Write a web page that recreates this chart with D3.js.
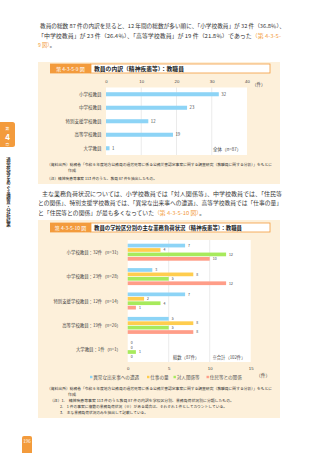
<!DOCTYPE html>
<html>
<head>
<meta charset="utf-8">
<script src="https://cdn.jsdelivr.net/npm/d3@7"></script>
<style>
  body { margin: 0; background: #fff; }
  svg { display: block; font-family: "Noto Sans CJK JP", "Noto Sans", sans-serif; }
</style>
</head>
<body>
<svg width="320" height="453"></svg>
<script>
// Chart 1 data
var schools1 = ["小学校教員", "中学校教員", "特別支援学校教員", "高等学校教員", "大学教員"];
var counts1 = [32, 23, 12, 19, 1];
var ticks1 = [0, 10, 20, 30, 40];

// Chart 2 data
var schools2 = ["小学校教員：32件（n=31）", "中学校教員：23件（n=28）", "特別支援学校教員：12件（n=14）", "高等学校教員：19件（n=26）", "大学教員：1件（n=1）"];
var series2 = ["異常な出来事への遭遇", "仕事の量", "対人関係等", "住民等との関係"];
var shock = [7, 3, 7, 5, 0];
var workload = [4, 8, 2, 8, 0];
var relations = [12, 5, 4, 5, 1];
var residents = [10, 12, 1, 8, 0];
var ticks2 = [0, 5, 10, 15];

var colors = ["#8dd4f6", "#ffcd4e", "#a7ea5c", "#ff9d88"];
var orange = "#f39b3c", cream = "#fdf0da", txt = "#333";

var svg = d3.select("svg");

// paragraph helper
function line(x, y, w, parts, size) {
  var t = svg.append("text").attr("x", x).attr("y", y)
    .attr("font-size", size || 5.3).attr("fill", txt)
    .attr("textLength", w).attr("lengthAdjust", "spacingAndGlyphs");
  parts.forEach(function(p) {
    t.append("tspan").attr("fill", p[1] || txt).text(p[0]);
  });
}

line(40, 28, 245, [["教員の総数 87 件の内訳を見ると、12 年間の総数が多い順に、「小学校教員」が 32 件（36.8％）、"]]);
line(38, 38, 243, [["「中学校教員」が 23 件（26.4％）、「高等学校教員」が 19 件（21.8％）であった"], ["（第 4-3-5-", orange]]);
line(38, 47, 17, [["9 図）", orange], ["。"]]);

line(42, 196, 240, [["主な業務負荷状況については、小学校教員では「対人関係等」、中学校教員では、「住民等"]]);
line(38, 205, 244, [["との関係」、特別支援学校教員では、「異常な出来事への遭遇」、高等学校教員では「仕事の量」"]]);
line(38, 215, 167, [["と「住民等との関係」が最も多くなっていた"], ["（第 4-3-5-10 図）", orange], ["。"]]);

// title bar helper
function titleBar(y, code, title, w) {
  svg.append("rect").attr("x", 91).attr("y", y).attr("width", 179).attr("height", 9)
    .attr("fill", "#fff").attr("stroke", orange).attr("stroke-width", 0.8);
  svg.append("rect").attr("x", 50).attr("y", y - 0.4).attr("width", 41).attr("height", 9.8).attr("fill", orange);
  svg.append("text").attr("x", 70.5).attr("y", y + 6.5).attr("text-anchor", "middle")
    .attr("font-size", 5).attr("fill", "#fff").text(code);
  svg.append("text").attr("x", 94).attr("y", y + 6.6).attr("font-size", 5.5).attr("font-weight", "bold")
    .attr("fill", "#222").attr("textLength", w).attr("lengthAdjust", "spacingAndGlyphs").text(title);
}

// ---------- chart 1 ----------
svg.append("rect").attr("x", 38).attr("y", 62).attr("width", 242).attr("height", 122).attr("fill", cream);
titleBar(64, "第 4-3-5-9 図", "教員の内訳（精神疾患等）：教職員", 90);

var x1 = d3.scaleLinear().domain([0, 40]).range([106, 247]);
var y1 = d3.scaleBand().domain(schools1).range([87.5, 155]).paddingInner(0.7).paddingOuter(0.35);

svg.append("rect").attr("x", x1(0)).attr("y", 87.5).attr("width", x1(40) - x1(0)).attr("height", 67.5).attr("fill", "#fff");
svg.append("g").selectAll("line").data(ticks1.slice(1, 4)).join("line")
  .attr("x1", d => x1(d)).attr("x2", d => x1(d)).attr("y1", 87.5).attr("y2", 155)
  .attr("stroke", "#ddd").attr("stroke-width", 0.6);

var ax1 = svg.append("g").attr("transform", "translate(0,84)")
  .call(d3.axisTop(x1).tickValues(ticks1).tickSize(0).tickPadding(1));
ax1.select(".domain").remove();
ax1.selectAll("text").attr("font-size", 4.3).attr("fill", "#444").attr("font-family", "inherit");
svg.append("text").attr("x", 252).attr("y", 86).attr("font-size", 4.5).attr("fill", "#444").text("（件）");

svg.append("g").selectAll("rect").data(counts1).join("rect")
  .attr("x", x1(0)).attr("y", (d, i) => y1(schools1[i]))
  .attr("width", d => x1(d) - x1(0)).attr("height", y1.bandwidth()).attr("fill", colors[0]);
svg.append("g").selectAll("text").data(counts1).join("text")
  .attr("x", d => x1(d) + 2.5).attr("y", (d, i) => y1(schools1[i]) + y1.bandwidth() / 2 + 1.5)
  .attr("font-size", 4.3).attr("fill", "#444").text(d => d);
svg.append("g").selectAll("text").data(schools1).join("text")
  .attr("x", 101.5).attr("y", d => y1(d) + y1.bandwidth() / 2 + 1.6).attr("text-anchor", "end")
  .attr("font-size", 4.5).attr("fill", "#444").text(d => d);
svg.append("text").attr("x", 213).attr("y", 150.5).attr("font-size", 4.5).attr("fill", "#444").text("全体（n=87）");

line(47, 166, 225, [["（資料出所）総務省「令和 6 年度地方公務員の過労死等に係る公務災害認定事案に関する調査研究（教職員に関する分析）」をもとに"]], 3.8);
line(68, 171.5, 8, [["作成"]], 3.8);
line(47, 180, 110, [["（注）精神疾患等事案 113 件のうち、教員 87 件を抽出したもの。"]], 3.8);

// ---------- chart 2 ----------
svg.append("rect").attr("x", 38).attr("y", 220).attr("width", 242).attr("height", 198).attr("fill", cream);
titleBar(223, "第 4-3-5-10 図", "教員の学校区分別の主な業務負荷状況（精神疾患等）：教職員", 148);

var x2 = d3.scaleLinear().domain([0, 15]).range([127.7, 250.7]);
var y2 = d3.scaleBand().domain(schools2).range([240, 362]);
var inner = d3.scaleBand().domain(series2).range([-8.5, 8.5]).paddingInner(0.16);
var values2 = [shock, workload, relations, residents];

svg.append("rect").attr("x", x2(0)).attr("y", 240).attr("width", x2(15) - x2(0)).attr("height", 122).attr("fill", "#fff");
svg.append("g").selectAll("line").data([5, 10]).join("line")
  .attr("x1", d => x2(d)).attr("x2", d => x2(d)).attr("y1", 240).attr("y2", 362)
  .attr("stroke", "#ddd").attr("stroke-width", 0.6);

var ax2 = svg.append("g").attr("transform", "translate(0,366)")
  .call(d3.axisBottom(x2).tickValues(ticks2).tickSize(0).tickPadding(1));
ax2.select(".domain").remove();
ax2.selectAll("text").attr("font-size", 4.3).attr("fill", "#444").attr("font-family", "inherit");
svg.append("text").attr("x", 256).attr("y", 376.5).attr("font-size", 4.8).attr("fill", "#444").text("（件）");

var cells = [];
values2.forEach(function(arr, s) {
  arr.forEach(function(v, i) { cells.push({ s: s, i: i, v: v }); });
});
function cy(d) { return y2(schools2[d.i]) + y2.bandwidth() / 2 + inner(series2[d.s]); }

svg.append("g").selectAll("rect").data(cells).join("rect")
  .attr("x", x2(0)).attr("y", cy)
  .attr("width", d => x2(d.v) - x2(0)).attr("height", inner.bandwidth()).attr("fill", d => colors[d.s]);
svg.append("g").selectAll("text").data(cells).join("text")
  .attr("x", d => x2(d.v) + 3).attr("y", d => cy(d) + inner.bandwidth() / 2 + 1.3)
  .attr("font-size", 3.5).attr("fill", "#444").text(d => d.v);
svg.append("g").selectAll("text").data(schools2).join("text")
  .attr("x", 121).attr("y", d => y2(d) + y2.bandwidth() / 2 + 1.6).attr("text-anchor", "end")
  .attr("font-size", 4.4).attr("fill", "#444").text(d => d);

svg.append("text").attr("x", 173).attr("y", 359).attr("font-size", 4.3).attr("fill", "#444").text("総数（87件）");
svg.append("text").attr("x", 212.5).attr("y", 359).attr("font-size", 4.3).attr("fill", "#444").text("※合計（102件）");

// legend
var legX = [90, 147, 173.5, 206.5];
var leg = svg.append("g").selectAll("g").data(series2).join("g")
  .attr("transform", (d, i) => "translate(" + legX[i] + ",379)");
leg.append("rect").attr("x", 0).attr("y", -3.2).attr("width", 2.4).attr("height", 2.4).attr("fill", (d, i) => colors[i]);
leg.append("text").attr("x", 3.2).attr("y", 0).attr("font-size", 4.6).attr("fill", "#555").text(d => d);

line(47, 390, 225, [["（資料出所）総務省「令和 6 年度地方公務員の過労死等に係る公務災害認定事案に関する調査研究（教職員に関する分析）」をもとに"]], 3.8);
line(68, 395.5, 8, [["作成"]], 3.8);
line(50, 401.5, 184, [["（注）1.　精神疾患等事案 113 件のうち教員 87 件の内訳を学校区分別、業務負荷状況別に分類したもの。"]], 3.8);
line(60, 407.5, 167, [["2.　1 件の事案に複数の業務負荷状況（※）がある場合は、それぞれ 1 件としてカウントしている。"]], 3.8);
line(60, 413.5, 88, [["3.　主な業務負荷状況のみを抽出して記載している。"]], 3.8);

// ---------- side tab & page number ----------
svg.append("path").attr("d", "M0,122 H12.5 Q15,122 15,124.5 V144.5 Q15,147 12.5,147 H0 Z").attr("fill", orange);
svg.append("text").attr("x", 7.5).attr("y", 130).attr("text-anchor", "middle").attr("font-size", 3.8).attr("fill", "#fff").text("第");
svg.append("text").attr("x", 7.5).attr("y", 140).attr("text-anchor", "middle").attr("font-size", 8).attr("font-weight", "bold").attr("fill", "#fff").text("4");
svg.append("text").attr("x", 7.5).attr("y", 145.5).attr("text-anchor", "middle").attr("font-size", 3.8).attr("fill", "#fff").text("章");
svg.append("text").attr("x", 8.5).attr("y", 157).attr("font-size", 4.4).attr("font-weight", "bold").attr("fill", "#333")
  .style("writing-mode", "vertical-rl").attr("textLength", 70).attr("lengthAdjust", "spacingAndGlyphs")
  .text("過労死等をめぐる調査・分析結果");

svg.append("path").attr("d", "M22,453 V438 Q22,436 24,436 H30 Q32,436 32,438 V453 Z").attr("fill", orange);
svg.append("text").attr("x", 27).attr("y", 442.5).attr("text-anchor", "middle").attr("font-size", 4.5).attr("fill", "#fff").text("196");
</script>
</body>
</html>
